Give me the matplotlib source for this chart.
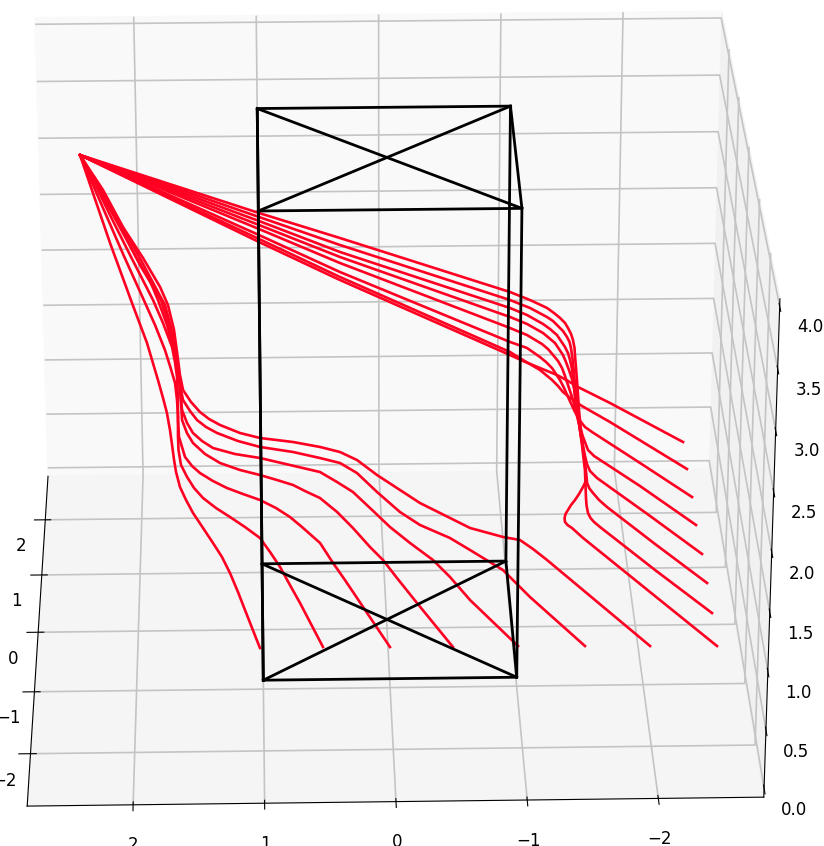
import matplotlib
matplotlib.use("Agg")
import matplotlib.pyplot as plt

# Rays through the right side of the box
r1_x = [2.408,0.995,0.349,-1.020,-1.100,-1.180,-1.258,-1.316,-1.371,-1.417,-1.455,-1.475,-1.496,-1.508,-1.515,-1.514,-1.515,-1.514,-1.514,-1.512,-1.514,-1.518,-1.521,-1.526,-1.525,-1.515,-1.497,-1.462,-1.428,-1.395,-1.369,-1.348,-1.338,-1.339,-1.358,-1.391,-1.472,-1.965,-2.452]
r1_y = [1.047,1.088,1.126,1.180,1.167,1.154,1.131,1.107,1.075,1.022,0.969,0.895,0.824,0.753,0.645,0.557,0.419,0.242,0.072,-0.117,-0.305,-0.470,-0.639,-0.769,-0.936,-0.982,-1.031,-1.111,-1.173,-1.219,-1.264,-1.312,-1.360,-1.408,-1.420,-1.452,-1.544,-1.970,-2.405]
r1_z = [3.60,3.07,2.83,2.32,2.29,2.26,2.23,2.21,2.18,2.16,2.14,2.13,2.11,2.09,2.07,2.05,2.01,1.98,1.93,1.89,1.85,1.80,1.77,1.73,1.70,1.68,1.67,1.65,1.63,1.61,1.59,1.58,1.57,1.56,1.54,1.53,1.49,1.24,1.00]
r2_x = [2.408,0.995,0.349,-1.022,-1.185,-1.319,-1.367,-1.405,-1.443,-1.472,-1.490,-1.498,-1.502,-1.505,-1.508,-1.513,-1.527,-1.536,-1.531,-1.528,-1.527,-1.535,-1.551,-1.577,-1.621,-2.031,-2.454]
r2_y = [1.047,1.101,1.125,1.224,1.219,1.152,1.140,1.087,1.034,0.962,0.910,0.839,0.750,0.662,0.383,0.022,-0.332,-0.612,-0.794,-0.923,-1.021,-1.099,-1.166,-1.195,-1.242,-1.567,-1.867]
r2_z = [3.60,3.03,2.77,2.23,2.16,2.11,2.08,2.06,2.04,2.02,2.00,1.98,1.96,1.94,1.87,1.78,1.69,1.61,1.57,1.53,1.51,1.48,1.47,1.45,1.43,1.22,1.00]
r3_x = [2.408,0.995,0.350,-1.024,-1.161,-1.289,-1.344,-1.398,-1.427,-1.456,-1.478,-1.490,-1.501,-1.504,-1.511,-1.528,-1.546,-1.553,-1.554,-1.570,-1.596,-1.640,-1.699,-2.061,-2.453]
r3_y = [1.047,1.090,1.101,1.245,1.216,1.171,1.139,1.088,1.017,0.945,0.896,0.807,0.702,0.597,0.267,-0.021,-0.306,-0.485,-0.618,-0.675,-0.714,-0.776,-0.839,-1.107,-1.367]
r3_z = [3.60,3.00,2.72,2.15,2.10,2.04,2.01,1.98,1.96,1.94,1.91,1.89,1.86,1.83,1.75,1.67,1.59,1.53,1.50,1.48,1.46,1.43,1.40,1.21,1.00]
r4_x = [2.408,0.996,0.350,-1.024,-1.162,-1.290,-1.337,-1.383,-1.413,-1.442,-1.463,-1.483,-1.502,-1.513,-1.524,-1.542,-1.563,-1.573,-1.594,-1.646,-2.054,-2.450]
r4_y = [1.047,1.103,1.093,1.225,1.218,1.172,1.141,1.088,1.037,0.966,0.898,0.811,0.706,0.602,0.343,0.053,-0.160,-0.262,-0.326,-0.390,-0.624,-0.874]
r4_z = [3.60,2.96,2.68,2.08,2.02,1.96,1.93,1.91,1.88,1.86,1.83,1.80,1.77,1.74,1.67,1.59,1.51,1.49,1.46,1.43,1.21,1.00]
r5_x = [2.408,0.996,0.350,-1.024,-1.162,-1.282,-1.329,-1.368,-1.406,-1.434,-1.454,-1.474,-1.506,-1.535,-1.566,-1.599,-1.645,-2.004,-2.439]
r5_y = [1.047,1.092,1.110,1.210,1.202,1.157,1.125,1.075,1.025,0.935,0.848,0.764,0.590,0.368,0.182,0.049,0.002,-0.156,-0.372]
r5_z = [3.60,2.93,2.62,1.99,1.93,1.87,1.84,1.81,1.78,1.76,1.73,1.69,1.64,1.57,1.51,1.46,1.43,1.24,1.00]
r6_x = [2.408,0.997,0.351,-1.023,-1.162,-1.265,-1.313,-1.359,-1.388,-1.418,-1.447,-1.475,-1.524,-1.567,-1.597,-1.653,-2.032,-2.443]
r6_y = [1.047,1.065,1.069,1.159,1.170,1.125,1.094,1.043,0.972,0.923,0.836,0.752,0.599,0.497,0.446,0.437,0.276,0.122]
r6_z = [3.60,2.89,2.56,1.89,1.83,1.77,1.74,1.71,1.69,1.66,1.63,1.59,1.53,1.49,1.47,1.43,1.23,1.00]
r7_x = [2.408,0.997,0.351,-1.023,-1.127,-1.265,-1.359,-1.406,-1.444,-1.483,-1.522,-1.595,-1.820,-2.438]
r7_y = [1.047,1.078,1.084,1.140,1.115,1.093,1.009,0.980,0.930,0.896,0.863,0.854,0.803,0.627]
r7_z = [3.60,2.85,2.51,1.81,1.75,1.67,1.62,1.58,1.55,1.53,1.51,1.46,1.34,1.00]
r8_x = [2.408,0.997,0.351,-1.026,-1.132,-1.271,-1.411,-1.501,-1.582,-1.844,-2.441]
r8_y = [1.047,1.064,1.092,1.212,1.203,1.216,1.229,1.220,1.210,1.198,1.122]
r8_z = [3.60,2.83,2.48,1.75,1.70,1.63,1.56,1.51,1.46,1.32,1.00]

# Rays through the left side of the box
l1_x = [2.408,2.287,2.167,1.994,1.877,1.792,1.753,1.723,1.700,1.684,1.669,1.654,1.624,1.578,1.525,1.449,1.374,1.306,1.246,1.186,1.134,1.023]
l1_y = [1.047,0.707,0.374,-0.076,-0.362,-0.631,-0.765,-0.865,-0.979,-1.098,-1.196,-1.282,-1.399,-1.482,-1.564,-1.641,-1.717,-1.796,-1.888,-2.009,-2.113,-2.352]
l1_z = [3.60,3.37,3.14,2.83,2.62,2.43,2.34,2.26,2.17,2.10,2.02,1.96,1.89,1.82,1.75,1.66,1.57,1.49,1.40,1.30,1.20,1.00]
l2_x = [2.408,2.247,2.064,1.883,1.813,1.736,1.697,1.658,1.643,1.635,1.636,1.632,1.613,1.567,1.514,1.446,1.348,1.242,1.128,1.014,0.938,0.863,0.789,0.714,0.544]
l2_y = [1.047,0.667,0.251,-0.160,-0.314,-0.494,-0.614,-0.752,-0.887,-1.042,-1.172,-1.290,-1.407,-1.492,-1.561,-1.612,-1.624,-1.639,-1.652,-1.662,-1.741,-1.836,-1.942,-2.066,-2.347]
l2_z = [3.60,3.37,3.10,2.85,2.75,2.62,2.54,2.46,2.38,2.31,2.22,2.15,2.08,2.02,1.96,1.90,1.82,1.75,1.67,1.58,1.50,1.42,1.32,1.23,1.00]
l3_x = [2.408,2.303,2.166,2.007,1.827,1.749,1.679,1.656,1.640,1.633,1.633,1.625,1.579,1.526,1.466,1.368,1.262,1.140,1.011,0.889,0.782,0.691,0.554,0.457,0.368,0.278,0.035]
l3_y = [1.047,0.827,0.506,0.163,-0.200,-0.388,-0.591,-0.735,-0.878,-1.077,-1.241,-1.393,-1.556,-1.610,-1.650,-1.647,-1.648,-1.592,-1.556,-1.535,-1.551,-1.583,-1.658,-1.799,-1.909,-2.034,-2.360]
l3_z = [3.60,3.48,3.32,3.13,2.91,2.80,2.69,2.63,2.57,2.47,2.38,2.31,2.22,2.17,2.13,2.06,2.00,1.92,1.85,1.77,1.70,1.63,1.53,1.43,1.34,1.25,1.00]
l4_x = [2.408,2.262,2.110,1.959,1.849,1.787,1.716,1.654,1.631,1.615,1.607,1.599,1.562,1.516,1.425,1.312,1.161,1.009,0.879,0.756,0.665,0.550,0.420,0.300,0.172,0.074,-0.030,-0.178,-0.444]
l4_y = [1.047,0.738,0.415,0.102,-0.109,-0.267,-0.512,-0.801,-0.922,-1.063,-1.239,-1.409,-1.512,-1.583,-1.652,-1.666,-1.606,-1.533,-1.480,-1.447,-1.431,-1.433,-1.494,-1.590,-1.715,-1.778,-1.905,-2.088,-2.372]
l4_z = [3.60,3.45,3.30,3.14,3.03,2.94,2.84,2.72,2.65,2.59,2.53,2.46,2.40,2.35,2.29,2.22,2.13,2.05,1.98,1.92,1.86,1.80,1.71,1.62,1.52,1.44,1.35,1.23,1.00]
l5_x = [2.408,2.246,2.085,1.926,1.809,1.762,1.691,1.644,1.621,1.613,1.597,1.559,1.514,1.446,1.363,1.197,1.007,0.778,0.548,0.418,0.296,0.167,0.017,-0.135,-0.308,-0.435,-0.583,-0.939]
l5_y = [1.047,0.698,0.337,-0.051,-0.278,-0.377,-0.655,-0.977,-1.118,-1.279,-1.463,-1.587,-1.678,-1.715,-1.735,-1.678,-1.567,-1.448,-1.350,-1.383,-1.417,-1.513,-1.639,-1.715,-1.807,-1.917,-2.088,-2.368]
l5_z = [3.60,3.45,3.30,3.14,3.03,2.99,2.88,2.76,2.70,2.65,2.57,2.52,2.48,2.43,2.38,2.30,2.21,2.09,1.98,1.91,1.84,1.75,1.65,1.55,1.45,1.36,1.25,1.00]
l6_x = [2.408,2.237,2.068,1.910,1.784,1.729,1.666,1.635,1.603,1.588,1.535,1.482,1.414,1.331,1.173,1.006,0.755,0.548,0.394,0.265,0.114,-0.058,-0.210,-0.440,-0.592,-0.842,-1.042,-1.448]
l6_y = [1.047,0.675,0.291,-0.061,-0.382,-0.493,-0.826,-1.131,-1.406,-1.498,-1.587,-1.682,-1.722,-1.724,-1.722,-1.664,-1.510,-1.435,-1.361,-1.415,-1.542,-1.686,-1.730,-1.737,-1.784,-1.870,-2.049,-2.380]
l6_z = [3.60,3.46,3.32,3.17,3.06,3.00,2.90,2.79,2.71,2.67,2.62,2.59,2.55,2.50,2.43,2.35,2.23,2.14,2.06,2.00,1.90,1.80,1.71,1.60,1.52,1.39,1.25,1.00]
l7_x = [2.408,2.221,2.060,1.901,1.767,1.705,1.657,1.625,1.610,1.586,1.526,1.458,1.390,1.307,1.157,1.006,0.755,0.548,0.395,0.265,0.114,-0.060,-0.210,-0.439,-0.591,-0.847,-0.980,-1.078,-1.183,-1.943]
l7_y = [1.047,0.674,0.249,-0.075,-0.378,-0.581,-0.865,-1.191,-1.352,-1.512,-1.618,-1.711,-1.750,-1.773,-1.770,-1.736,-1.584,-1.490,-1.437,-1.456,-1.555,-1.634,-1.718,-1.757,-1.790,-1.730,-1.665,-1.720,-1.789,-2.392]
l7_z = [3.60,3.46,3.33,3.21,3.10,3.04,2.96,2.86,2.81,2.76,2.71,2.67,2.63,2.59,2.52,2.46,2.35,2.26,2.19,2.13,2.05,1.96,1.89,1.78,1.71,1.60,1.54,1.49,1.43,1.00]

rays = [(r1_x,r1_y,r1_z),(r2_x,r2_y,r2_z),(r3_x,r3_y,r3_z),(r4_x,r4_y,r4_z),(r5_x,r5_y,r5_z),(r6_x,r6_y,r6_z),(r7_x,r7_y,r7_z),(r8_x,r8_y,r8_z),
        (l1_x,l1_y,l1_z),(l2_x,l2_y,l2_z),(l3_x,l3_y,l3_z),(l4_x,l4_y,l4_z),(l5_x,l5_y,l5_z),(l6_x,l6_y,l6_z),(l7_x,l7_y,l7_z)]

# Box
box_x = [1, -1, -1, 1, 1]
box_y = [-1, -1, 1, 1, -1]
box_z = [0, 4]

x_ticks = [2, 1, 0, -1, -2]
y_ticks = [-2, -1, 0, 1, 2]
z_ticks = [0, 0.5, 1, 1.5, 2, 2.5, 3, 3.5, 4]

plt.rcParams["grid.color"] = "#c4c4c4"
plt.rcParams["grid.linewidth"] = 1.2

fig = plt.figure(figsize=(8.24, 8.46), dpi=100)
ax = fig.add_subplot(projection="3d")
ax.computed_zorder = False
ax.view_init(25.743, -91.399)
ax.set_proj_type("persp", focal_length=1.30134)

# Red rays under the black box
for xs, ys, zs in rays:
    ax.plot(xs, ys, zs, color="#ff0022", lw=1.9, zorder=2)

for z in box_z:
    ax.plot(box_x, box_y, [z]*5, color="k", lw=2, zorder=3)
    ax.plot([box_x[0], box_x[2]], [box_y[0], box_y[2]], [z, z], color="k", lw=2, zorder=3)
    ax.plot([box_x[1], box_x[3]], [box_y[1], box_y[3]], [z, z], color="k", lw=2, zorder=3)
for a, b in zip(box_x[:4], box_y[:4]):
    ax.plot([a, a], [b, b], box_z, color="k", lw=2, zorder=3)

ax.set_xlim(2.80507, -2.80507)
ax.set_ylim(-2.8159, 2.8159)
ax.set_zlim(-0.07906, 4.05833)
ax.set_box_aspect((4, 4, 2.98377), zoom=1.33889)
ax.set_position([-0.04386, 0.034, 1.0, 824/846])

ax.set_xticks(x_ticks)
ax.set_yticks(y_ticks)
ax.set_zticks(z_ticks)
ax.tick_params(labelsize=12)
ax.zaxis.set_ticks_position("lower")
ax.xaxis.set_pane_color((0.945, 0.945, 0.945, 1))
ax.yaxis.set_pane_color((0.975, 0.975, 0.975, 1))
ax.zaxis.set_pane_color((0.96, 0.96, 0.96, 1))

fig.savefig("out.png", dpi=100)
